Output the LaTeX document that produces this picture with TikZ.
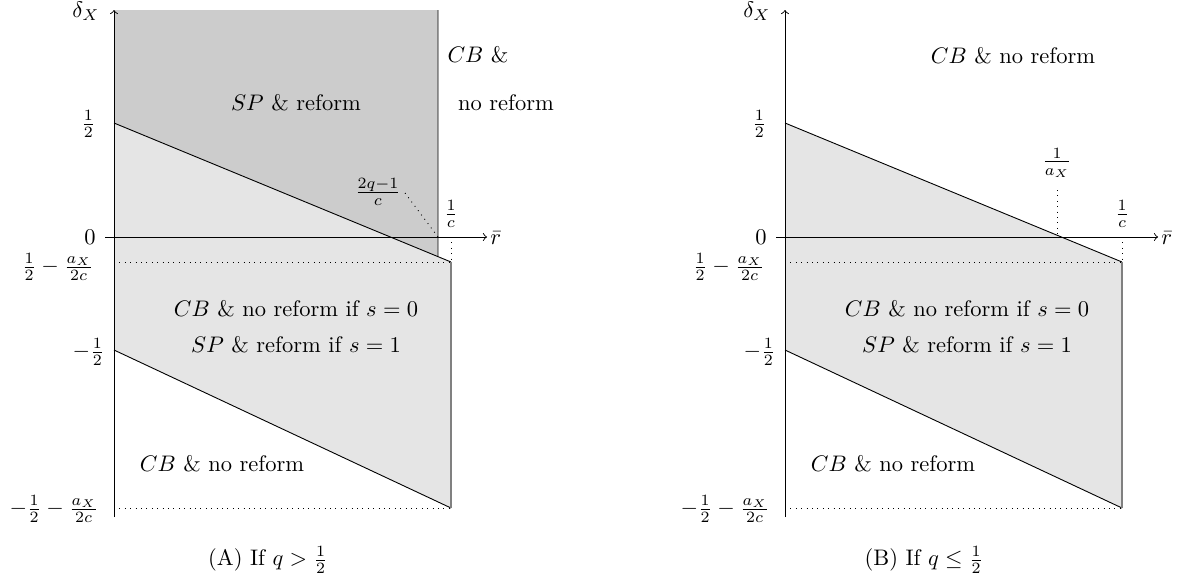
\documentclass[tikz,border=0pt]{standalone}
\usepackage{amsmath}
\usetikzlibrary{calc}
\begin{document}
\begin{tikzpicture}[x=0.4444pt,y=-0.4444pt,
  darkfill/.style={fill=gray!40},
  lightfill/.style={fill=gray!20},
  bline/.style={line width=0.4pt},
  edgeline/.style={line width=0.6pt, draw=gray},
  guide/.style={dotted, line width=0.4pt},
  axisline/.style={->, line width=0.4pt},
  lab/.style={inner sep=0pt},
  ylab/.style={inner sep=0pt, anchor=east}]
\useasboundingbox (0,0) rectangle (1178,581);
\foreach \p/\s in {a/0,b/671}{
  \begin{scope}[shift={(\s,0)}]
    \coordinate (\p top) at (114,10);
    \coordinate (\p bot) at (114,517);
    \coordinate (\p xl) at (105,237);
    \coordinate (\p xr) at (487,237);
    \coordinate (\p P1) at (114,123);
    \coordinate (\p P2) at (451,262);
    \coordinate (\p P3) at (451,508);
    \coordinate (\p P4) at (114,350);
    \coordinate (\p C) at (451,237);
    \coordinate (\p Q) at (114,262);
    \coordinate (\p R) at (114,508);
  \end{scope}
}
% panel A dark region
\coordinate (aD0) at (114,10);
\coordinate (aD1) at (438,10);
\coordinate (aD3) at ($(aP1)!0.9614!(aP2)$);
\coordinate (aD2) at (438,237);
\coordinate (aG) at (405,193);
\coordinate (bK) at (1057,237);
\coordinate (bKt) at (1057,190);

% fills
\fill[lightfill] (aP1) -- (aP2) -- (aP3) -- (aP4) -- cycle;
\fill[darkfill] (aD0) -- (aD1) -- (aD3) -- (aP1) -- cycle;
\fill[lightfill] (bP1) -- (bP2) -- (bP3) -- (bP4) -- cycle;

\foreach \p in {a,b}{
  \draw[bline] (\p P1) -- (\p P2);
  \draw[bline] (\p P4) -- (\p P3);
  \draw[edgeline] (\p P2) -- (\p P3);
  \draw[guide] (\p Q) -- (\p P2);
  \draw[guide] (\p C) -- (\p P2);
  \draw[guide] (\p R) -- (\p P3);
  \draw[axisline] (\p bot) -- (\p top);
  \draw[axisline] (\p xl) -- (\p xr);
}
\draw[bline] (aD1) -- (aD3);
\draw[guide] (aG) -- (aD2);
\draw[guide] (bKt) -- (bK);

% panel A labels
\node[lab] (adx) at (86,11) {$\delta_X$};
\node[lab, anchor=west] (arb) at (490,238) {$\bar r$};
\node[ylab] (ah) at (96,124) {$\frac{1}{2}$};
\node[ylab] (az) at (96,237) {$0$};
\node[ylab] (ahm) at (94,267) {$\frac{1}{2}-\frac{a_X}{2c}$};
\node[ylab] (amh) at (105,352) {$-\frac{1}{2}$};
\node[ylab] (amhm) at (99,509) {$-\frac{1}{2}-\frac{a_X}{2c}$};
\node[lab] (aq) at (378,192) {$\frac{2q-1}{c}$};
\node[lab] (ac) at (451,214) {$\frac{1}{c}$};
\node[lab] (asp) at (296,103) {$SP$ \& reform};
\node[lab] (acb1) at (478,55) {$CB$ \&};
\node[lab] (acb2) at (506,103) {no reform};
\node[lab] (amid1) at (296,309) {$CB$ \& no reform if $s=0$};
\node[lab] (amid2) at (296,345) {$SP$ \& reform if $s=1$};
\node[lab] (alow) at (222,464) {$CB$ \& no reform};
\node[lab] (acap) at (268,560) {(A) If $q>\frac{1}{2}$};

% panel B labels
\node[lab] (bdx) at (757,11) {$\delta_X$};
\node[lab, anchor=west] (brb) at (1161,238) {$\bar r$};
\node[ylab] (bh) at (767,124) {$\frac{1}{2}$};
\node[ylab] (bz) at (767,237) {$0$};
\node[ylab] (bhm) at (765,267) {$\frac{1}{2}-\frac{a_X}{2c}$};
\node[ylab] (bmh) at (776,352) {$-\frac{1}{2}$};
\node[ylab] (bmhm) at (770,509) {$-\frac{1}{2}-\frac{a_X}{2c}$};
\node[lab] (bax) at (1057,163) {$\frac{1}{a_X}$};
\node[lab] (bc) at (1122,214) {$\frac{1}{c}$};
\node[lab] (btop) at (1013,56) {$CB$ \& no reform};
\node[lab] (bmid1) at (967,309) {$CB$ \& no reform if $s=0$};
\node[lab] (bmid2) at (967,345) {$SP$ \& reform if $s=1$};
\node[lab] (blow) at (893,464) {$CB$ \& no reform};
\node[lab] (bcap) at (924,560) {(B) If $q\leq\frac{1}{2}$};
\end{tikzpicture}
\end{document}
